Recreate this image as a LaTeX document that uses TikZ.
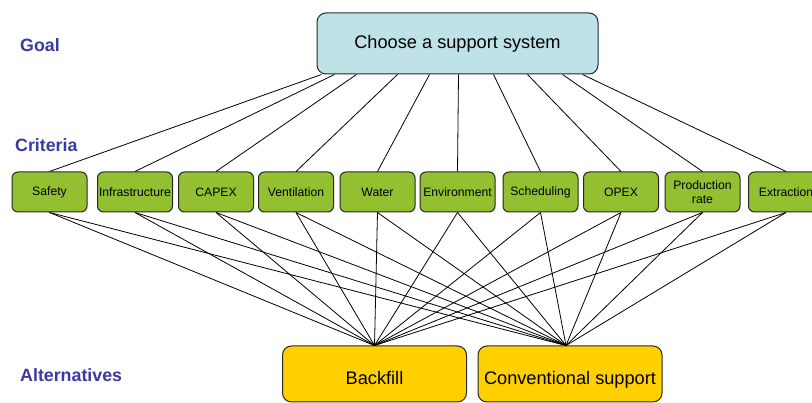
\documentclass[tikz,border=0pt]{standalone}
\usepackage{fontspec}
\setmainfont{Liberation Sans}
\usetikzlibrary{positioning}

\definecolor{goalblue}{RGB}{191,226,232}
\definecolor{critgreen}{RGB}{146,192,48}
\definecolor{altyellow}{RGB}{255,208,0}
\definecolor{levelblue}{RGB}{58,58,160}

\begin{document}
\begin{tikzpicture}[x=1pt,y=-1pt,
  goalbox/.style={draw=black!85,line width=1pt,rounded corners=9pt,fill=goalblue,minimum width=281pt,minimum height=61pt,inner sep=0pt,font=\fontsize{18.2}{20}\selectfont},
  critbox/.style={draw=black!85,line width=1pt,rounded corners=6pt,fill=critgreen,minimum width=75pt,minimum height=40pt,inner sep=0pt,align=center,font=\fontsize{12.2}{14}\selectfont},
  altbox/.style={draw=black!85,line width=1pt,rounded corners=9pt,fill=altyellow,minimum width=184pt,minimum height=56pt,inner sep=0pt,text height=21pt,text depth=0pt,font=\fontsize{18.2}{20}\selectfont},
  levellabel/.style={anchor=west,inner sep=0pt,text=levelblue,font=\fontsize{17.8}{20}\selectfont\bfseries},
  link/.style={line width=0.8pt}]
 \useasboundingbox (0,0) rectangle (812,403);
 \clip (0,0) rectangle (812,403);
 \node[levellabel] (lgoal) at (20,45) {Goal};
 \node[levellabel] (lcrit) at (15,145) {Criteria};
 \node[levellabel] (lalt) at (20,375) {Alternatives};
 \node[goalbox] (goal) at (457.5,43.5) {Choose a support system};
 \node[critbox] (c1) at (49.5,192) {Safety};
 \node[critbox] (c2) at (135,192) {Infrastructure};
 \node[critbox] (c3) at (216,192) {CAPEX};
 \node[critbox] (c4) at (296,192) {Ventilation};
 \node[critbox] (c5) at (377.5,192) {Water};
 \node[critbox] (c6) at (457.5,192) {Environment};
 \node[critbox] (c7) at (540.5,192) {Scheduling};
 \node[critbox] (c8) at (621,192) {OPEX};
 \node[critbox] (c9) at (702.5,192) {Production\\rate};
 \node[critbox] (c10) at (786,192) {Extraction};
 \node[altbox] (alt1) at (374.5,374) {Backfill};
 \node[altbox] (alt2) at (570,374) {Conventional support};
 \coordinate (a1) at (alt1.north);
 \coordinate (a2) at ([xshift=-4pt]alt2.north);
 \foreach \i/\dx in {1/5,2/18,3/40,4/81,5/113,6/142,7/177,8/211,9/246,10/266}
  \draw[link] (c\i.north) -- ([xshift=\dx pt]goal.south west);
 \foreach \i in {1,...,10}{
  \draw[link] (c\i.south) -- (a1);
  \draw[link] (c\i.south) -- (a2);
 }
\end{tikzpicture}
\end{document}
